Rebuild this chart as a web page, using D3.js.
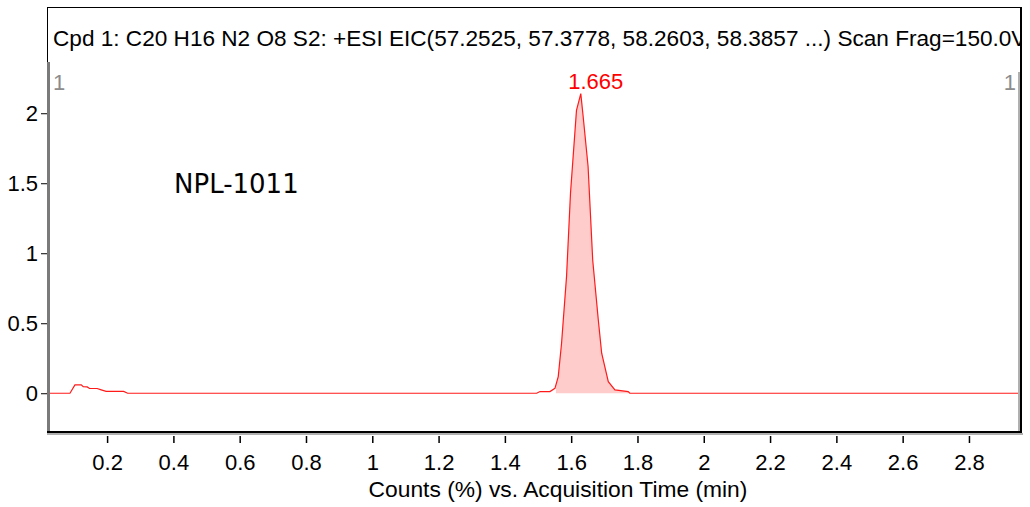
<!DOCTYPE html>
<html>
<head>
<meta charset="utf-8">
<script src="https://cdn.jsdelivr.net/npm/d3@7"></script>
<style>
  html, body { margin: 0; padding: 0; background: #fff; }
  svg { display: block; }
</style>
</head>
<body>
<div id="chart"></div>
<script>
// Extracted ion chromatogram, NPL-1011
const titleText = "Cpd 1: C20 H16 N2 O8 S2: +ESI EIC(57.2525, 57.3778, 58.2603, 58.3857 ...) Scan Frag=150.0V";
const sampleName = "NPL-1011";
const xAxisTitle = "Counts (%) vs. Acquisition Time (min)";
const peakLabel = "1.665";

// acquisition time (min)
const times = [
  0.018, 0.088, 0.103, 0.122, 0.128, 0.140, 0.147, 0.170, 0.180, 0.197, 0.250, 0.262,
  1.496, 1.506, 1.536, 1.551, 1.561, 1.571, 1.586, 1.598, 1.616, 1.629, 1.636, 1.651,
  1.665, 1.682, 1.692, 1.712, 1.732, 1.772, 1.777, 2.960
];
// counts (%)
const counts = [
  0, 0, 0.060, 0.060, 0.047, 0.045, 0.034, 0.034, 0.026, 0.013, 0.013, 0,
  0, 0.012, 0.012, 0.035, 0.119, 0.357, 0.833, 1.430, 2.020, 2.140, 1.980, 1.620,
  0.950, 0.520, 0.286, 0.083, 0.024, 0.012, 0, 0
];
// integrated peak window
const integStart = 1.554;
const integEnd = 1.777;

const xTicks = [0.2, 0.4, 0.6, 0.8, 1, 1.2, 1.4, 1.6, 1.8, 2, 2.2, 2.4, 2.6, 2.8];
const xTickLabels = ["0.2", "0.4", "0.6", "0.8", "1", "1.2", "1.4", "1.6", "1.8", "2", "2.2", "2.4", "2.6", "2.8"];
const yTicks = [0, 0.5, 1, 1.5, 2];
const yTickLabels = ["0", "0.5", "1", "1.5", "2"];

const W = 1030, H = 507;
const box = { left: 47, right: 1022, top: 7, plotTop: 62, bottom: 433 };
const SANS = "'Liberation Sans', Arial, Helvetica, sans-serif";

const svg = d3.select("#chart").append("svg")
  .attr("width", W).attr("height", H)
  .style("font-family", SANS);

svg.append("rect").attr("width", W).attr("height", H).attr("fill", "#fff");

const x = d3.scaleLinear().domain([0.0187, 2.957]).range([box.left, 1021]);
const y = d3.scaleLinear().domain([-0.284, 2.366]).range([box.bottom, box.plotTop]);

const data = times.map((t, i) => ({ t, v: counts[i] }));

// integrated peak fill
const interp = t => {
  for (let i = 1; i < data.length; i++) {
    if (t <= data[i].t) {
      const a = data[i - 1], b = data[i];
      return a.v + (b.v - a.v) * (t - a.t) / (b.t - a.t);
    }
  }
  return 0;
};
const fillPts = [{ t: integStart, v: interp(integStart) }]
  .concat(data.filter(d => d.t > integStart && d.t < integEnd))
  .concat([{ t: integEnd, v: interp(integEnd) }]);

svg.append("path")
  .datum(fillPts)
  .attr("d", d3.area().x(d => x(d.t)).y0(y(0)).y1(d => y(d.v)))
  .attr("fill", "#ffcccc");

// trace
svg.append("path")
  .datum(data)
  .attr("d", d3.line().x(d => x(d.t)).y(d => y(d.v)))
  .attr("fill", "none")
  .attr("stroke", "#ff1a1a")
  .attr("stroke-width", 1.2);

// frame
const frame = svg.append("g");
frame.append("line").attr("x1", box.left).attr("x2", box.right).attr("y1", box.top + 0.5).attr("y2", box.top + 0.5)
  .attr("stroke", "#000").attr("stroke-width", 1);
frame.append("line").attr("x1", box.left + 0.5).attr("x2", box.left + 0.5).attr("y1", box.top).attr("y2", box.plotTop)
  .attr("stroke", "#000").attr("stroke-width", 1);
frame.append("line").attr("x1", box.right - 1).attr("x2", box.right - 1).attr("y1", box.top).attr("y2", box.bottom + 1)
  .attr("stroke", "#000").attr("stroke-width", 2);
// left axis bar
frame.append("line").attr("x1", box.left + 1.5).attr("x2", box.left + 1.5).attr("y1", box.plotTop).attr("y2", box.bottom + 1)
  .attr("stroke", "#7a7a7a").attr("stroke-width", 3);
// right inner bar
frame.append("line").attr("x1", box.right - 3).attr("x2", box.right - 3).attr("y1", 72).attr("y2", box.bottom)
  .attr("stroke", "#b0b0b0").attr("stroke-width", 2);
// bottom edge with shade
frame.append("line").attr("x1", box.left).attr("x2", box.right).attr("y1", box.bottom - 1).attr("y2", box.bottom - 1)
  .attr("stroke", "#000").attr("stroke-width", 2);
frame.append("line").attr("x1", box.left).attr("x2", box.right + 1).attr("y1", box.bottom + 1).attr("y2", box.bottom + 1)
  .attr("stroke", "#b0b0b0").attr("stroke-width", 2);

// x axis
const xAxis = d3.axisBottom(x)
  .tickValues(xTicks)
  .tickFormat((d, i) => xTickLabels[i])
  .tickSize(7)
  .tickPadding(11);
const gx = svg.append("g").attr("transform", `translate(0,${box.bottom + 3})`).call(xAxis);
gx.select(".domain").remove();
gx.selectAll(".tick line").attr("stroke", "#000").attr("stroke-width", 1.5);
gx.selectAll(".tick text").attr("font-size", 22).attr("fill", "#000").style("font-family", SANS);

// y axis
const yAxis = d3.axisLeft(y)
  .tickValues(yTicks)
  .tickFormat((d, i) => yTickLabels[i])
  .tickSize(6)
  .tickPadding(3);
const gy = svg.append("g").attr("transform", `translate(${box.left},0)`).call(yAxis);
gy.select(".domain").remove();
gy.selectAll(".tick line").attr("stroke", "#000").attr("stroke-width", 1);
gy.selectAll(".tick text").attr("font-size", 22).attr("fill", "#000").style("font-family", SANS);

// title, clipped to the frame
svg.append("clipPath").attr("id", "titleClip")
  .append("rect").attr("x", box.left).attr("y", 0).attr("width", box.right - box.left - 2).attr("height", 60);
svg.append("text")
  .attr("clip-path", "url(#titleClip)")
  .attr("x", 53).attr("y", 46)
  .attr("font-size", 22.6)
  .attr("fill", "#000")
  .text(titleText);

// scan markers
svg.append("text").attr("x", 53).attr("y", 90).attr("font-size", 22).attr("fill", "#8c8c8c").text("1");
svg.append("text").attr("x", 1016).attr("y", 90).attr("font-size", 22).attr("fill", "#8c8c8c")
  .attr("text-anchor", "end").text("1");

// sample name
svg.append("text").attr("x", 174).attr("y", 193).attr("font-size", 26)
  .style("font-family", "'DejaVu Sans', Verdana, sans-serif")
  .attr("fill", "#000").text(sampleName);

// peak retention time label
const apex = data.reduce((a, b) => (b.v > a.v ? b : a));
svg.append("text")
  .attr("x", x(apex.t) + 15).attr("y", y(apex.v) - 5)
  .attr("text-anchor", "middle")
  .attr("font-size", 22).attr("fill", "#ff0000")
  .text(peakLabel);

// x axis title
svg.append("text").attr("x", 558).attr("y", 497).attr("text-anchor", "middle")
  .attr("font-size", 22.8).attr("fill", "#000").text(xAxisTitle);
</script>
</body>
</html>
